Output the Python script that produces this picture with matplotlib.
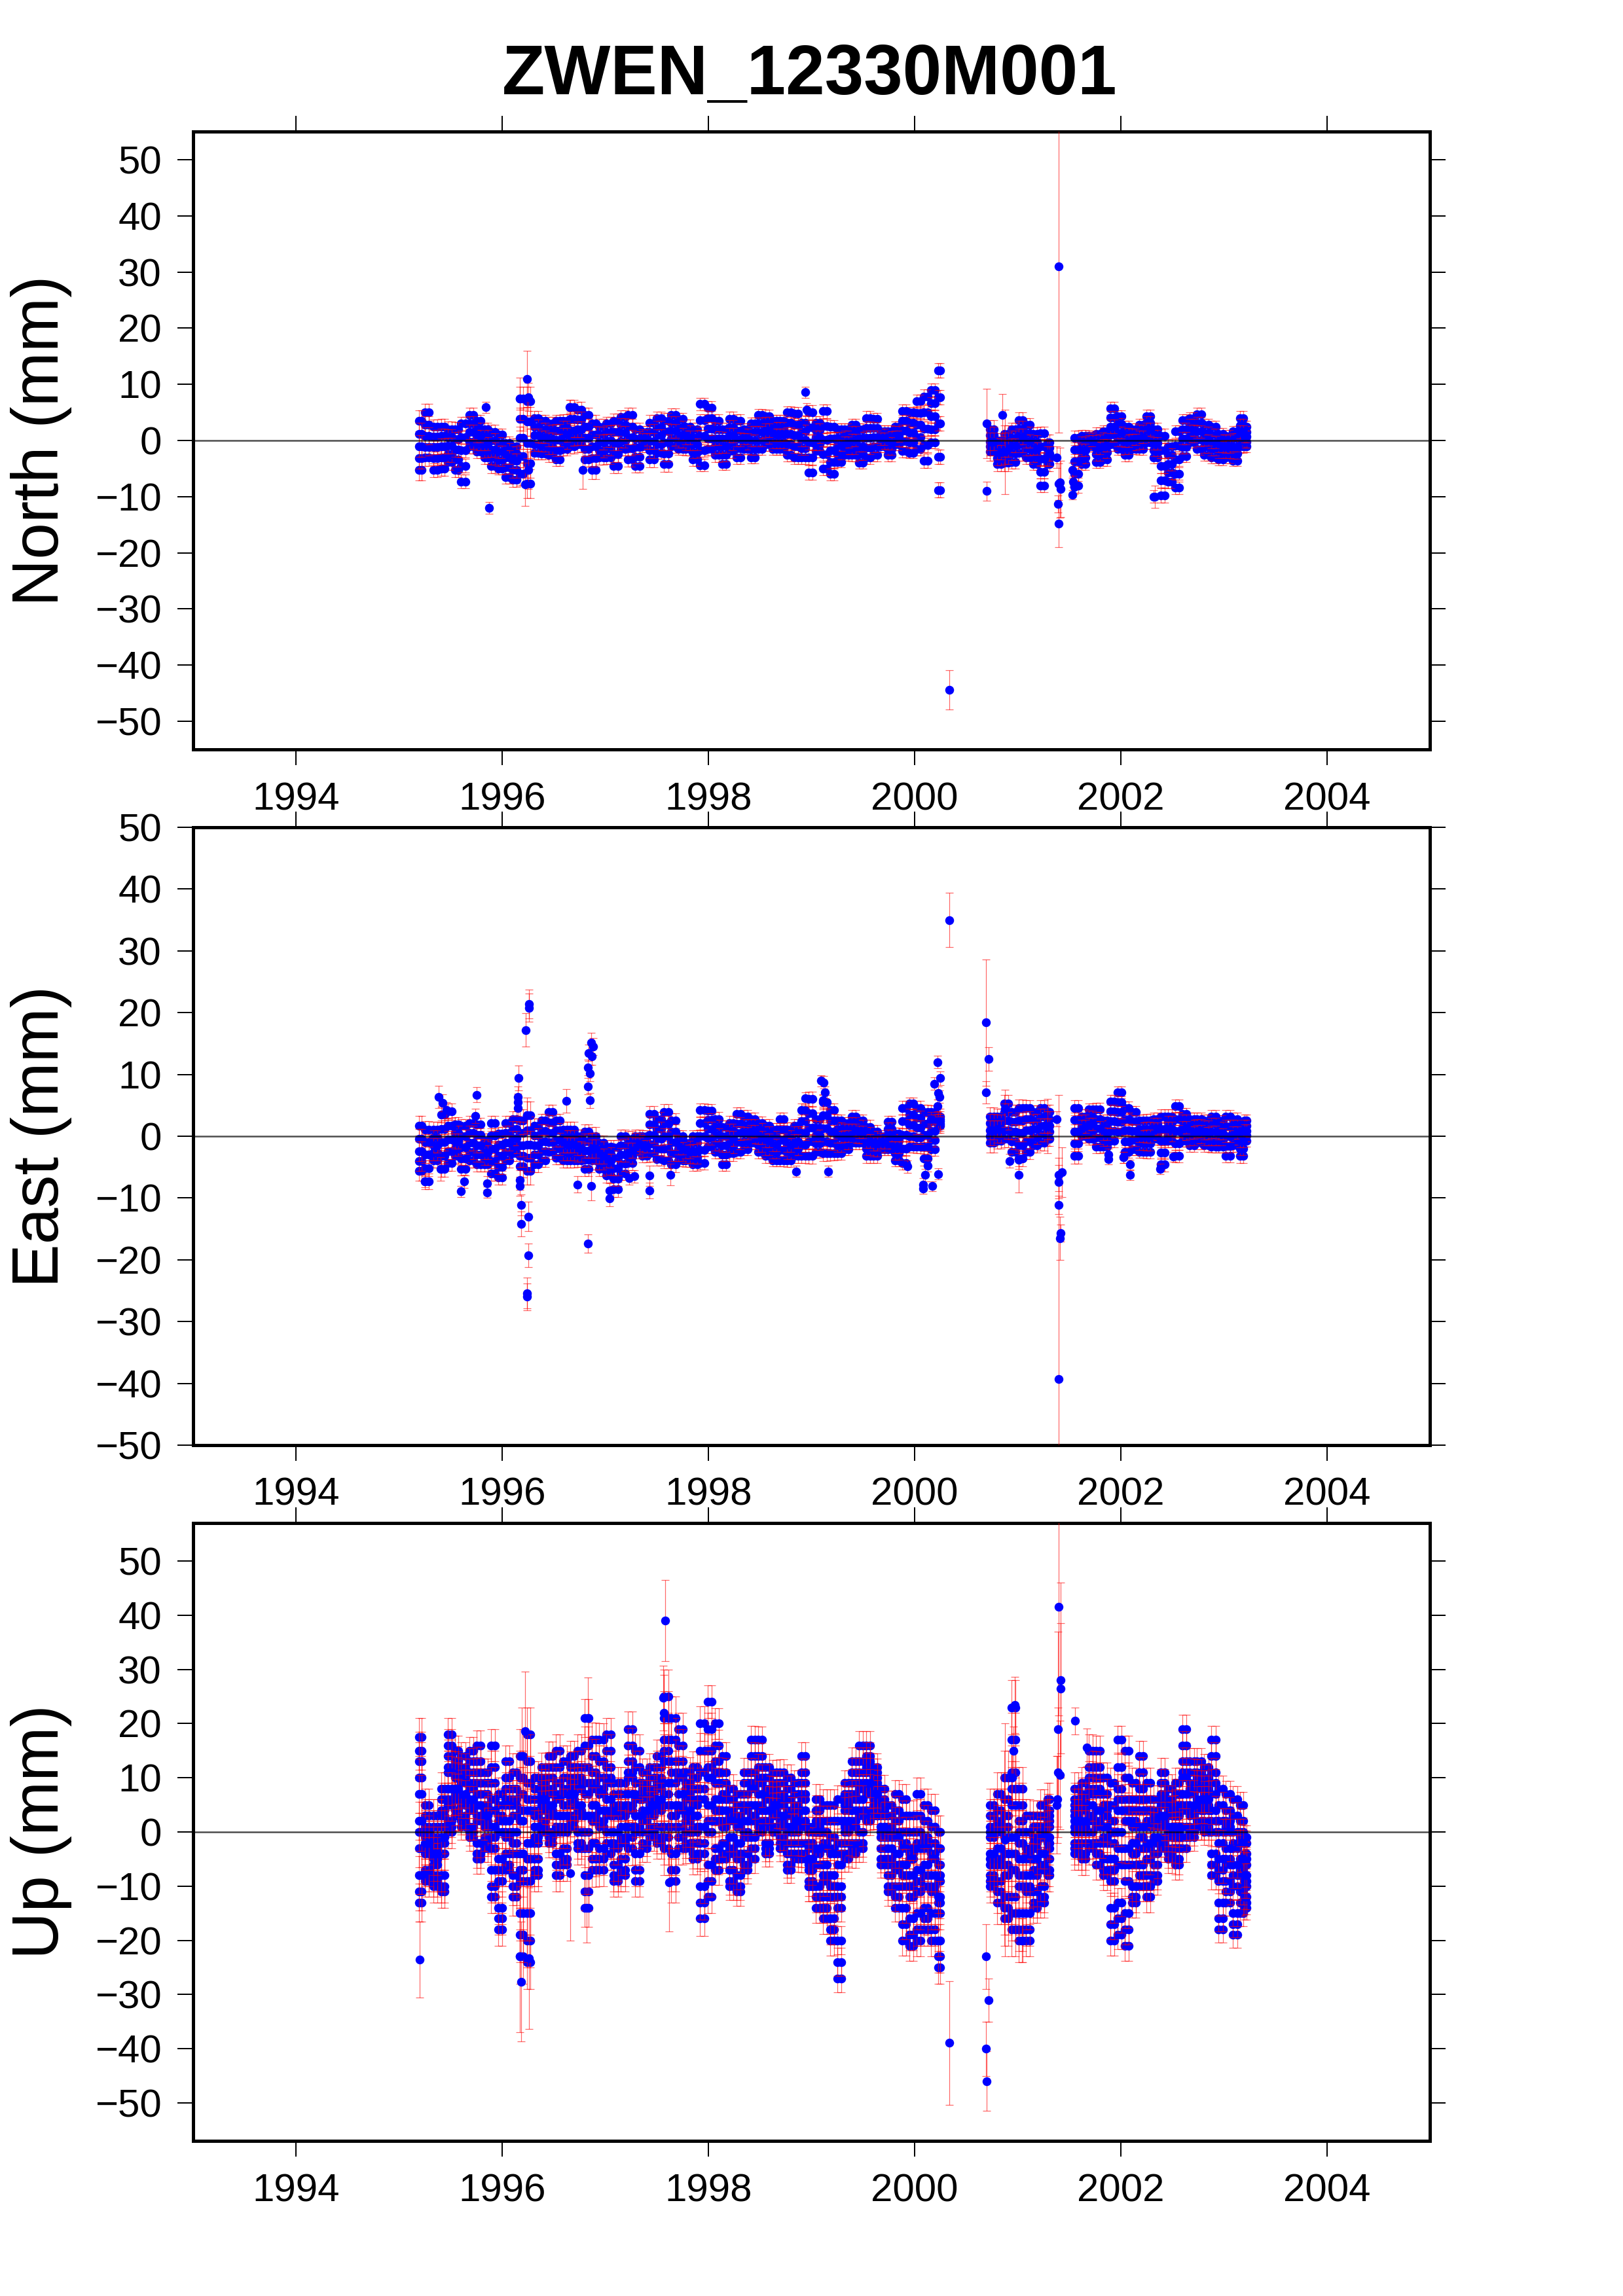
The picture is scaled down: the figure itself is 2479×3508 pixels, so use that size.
import numpy as np
import matplotlib
matplotlib.use("Agg")
import matplotlib.pyplot as plt

title = "ZWEN_12330M001"
year_ticks = [1994, 1996, 1998, 2000, 2002, 2004]
mm_ticks = [-50, -40, -30, -20, -10, 0, 10, 20, 30, 40, 50]

# sampling columns, two staggered sets
epochs = [
    1995.19, 1995.25, 1995.33, 1995.41, 1995.47, 1995.54, 1995.60, 1995.68, 1995.75, 1995.83,
    1995.89, 1995.96, 1996.03, 1996.10, 1996.17, 1996.24, 1996.31, 1996.38, 1996.45, 1996.52,
    1996.59, 1996.66, 1996.73, 1996.80, 1996.87, 1996.94, 1997.01, 1997.08, 1997.15, 1997.22,
    1997.29, 1997.36, 1997.43, 1997.50, 1997.57, 1997.64, 1997.71, 1997.78, 1997.85, 1997.92,
    1997.99, 1998.06, 1998.13, 1998.20, 1998.27, 1998.34, 1998.41, 1998.48, 1998.55, 1998.62,
    1998.69, 1998.76, 1998.83, 1998.90, 1998.97, 1999.04, 1999.11, 1999.18, 1999.25, 1999.32,
    1999.39, 1999.46, 1999.53, 1999.60, 1999.67, 1999.74, 1999.81, 1999.88, 1999.95, 2000.02,
    2000.09, 2000.16, 2000.23, 2000.73, 2000.80, 2000.87, 2000.94, 2001.01, 2001.08, 2001.15,
    2001.22, 2001.29, 2001.55, 2001.62, 2001.69, 2001.76, 2001.83, 2001.90, 2001.97, 2002.04,
    2002.11, 2002.18, 2002.25, 2002.32, 2002.39, 2002.46, 2002.53, 2002.60, 2002.67, 2002.74,
    2002.81, 2002.88, 2002.95, 2003.02, 2003.09, 2003.16, 2003.22,
]
epochs_mid = [
    1995.22, 1995.29, 1995.37, 1995.44, 1995.51, 1995.57, 1995.64, 1995.72, 1995.79, 1995.86,
    1995.93, 1996.00, 1996.07, 1996.14, 1996.20, 1996.27, 1996.35, 1996.42, 1996.49, 1996.56,
    1996.63, 1996.70, 1996.77, 1996.84, 1996.91, 1996.98, 1997.05, 1997.12, 1997.19, 1997.26,
    1997.33, 1997.40, 1997.47, 1997.54, 1997.61, 1997.68, 1997.75, 1997.82, 1997.89, 1997.96,
    1998.03, 1998.10, 1998.17, 1998.24, 1998.31, 1998.38, 1998.45, 1998.52, 1998.59, 1998.66,
    1998.73, 1998.80, 1998.87, 1998.94, 1999.01, 1999.08, 1999.15, 1999.22, 1999.29, 1999.36,
    1999.43, 1999.50, 1999.57, 1999.64, 1999.71, 1999.78, 1999.85, 1999.92, 1999.99, 2000.06,
    2000.13, 2000.20, 2000.25, 2000.77, 2000.84, 2000.91, 2000.98, 2001.05, 2001.12, 2001.19,
    2001.26, 2001.31, 2001.59, 2001.66, 2001.73, 2001.80, 2001.87, 2001.94, 2002.01, 2002.08,
    2002.15, 2002.22, 2002.29, 2002.36, 2002.43, 2002.50, 2002.57, 2002.64, 2002.71, 2002.78,
    2002.85, 2002.92, 2002.99, 2003.06, 2003.13, 2003.19, 2003.20,
]

north_top = [
    3.5, 5.0, 2.5, 2.5, 2.0, 2.0, 3.0, 4.5, 3.5, 2.0,
    1.5, 1.0, -0.5, -1.0, 7.5, 7.0, 4.0, 3.5, 3.0, 3.5,
    3.5, 6.0, 5.5, 4.5, 3.0, 2.5, 3.0, 3.5, 4.2, 4.5,
    2.0, 1.5, 3.2, 4.0, 3.5, 4.5, 3.8, 2.5, 2.0, 6.5,
    5.8, 3.5, 2.0, 3.8, 3.5, 2.0, 3.0, 4.5, 4.3, 3.5,
    3.5, 5.0, 4.8, 3.2, 5.0, 3.2, 5.2, 2.5, 2.0, 2.0,
    2.8, 2.0, 4.0, 3.8, 1.6, 1.6, 2.4, 5.3, 5.0, 7.0,
    7.8, 9.0, 12.5, 2.0, 0.0, 1.2, 2.0, 3.6, 2.8, 1.2,
    1.3, -0.3, 0.5, 0.8, 0.8, 1.2, 1.6, 5.7, 4.3, 2.4,
    2.0, 2.8, 4.3, 2.0, 0.8, -1.0, 1.6, 3.6, 4.0, 4.7,
    2.8, 2.4, 1.2, 0.8, 1.6, 4.0, 2.4,
]
north_high = [
    1.2, 2.8, 0.7, 0.8, 0.6, 0.2, 0.6, 3.0, 2.1, 0.7,
    0.0, -0.5, -1.7, -2.3, 3.8, 3.4, 2.5, 2.0, 1.6, 1.8,
    2.3, 3.9, 3.7, 2.5, 1.0, 1.1, 1.5, 1.5, 2.8, 2.5,
    0.4, 0.9, 1.5, 2.4, 1.6, 3.1, 2.4, 1.5, 0.6, 3.6,
    4.0, 2.0, 0.4, 2.3, 1.8, 1.1, 1.5, 3.0, 3.0, 2.2,
    2.2, 3.1, 2.8, 1.6, 2.3, 1.9, 2.6, 0.4, 0.5, 0.8,
    1.5, 0.5, 2.2, 2.2, 1.0, 0.5, 1.6, 3.5, 3.2, 4.9,
    5.0, 6.6, 7.7, 0.9, -1.0, -0.1, 0.5, 2.1, 1.3, -0.2,
    -1.0, -1.3, -1.6, -0.4, 0.4, -0.1, 0.3, 4.1, 2.9, 1.1,
    1.1, 1.7, 3.1, 0.8, -1.8, -2.6, -0.9, 2.0, 2.9, 3.1,
    1.4, 1.0, 0.1, -0.1, 0.3, 2.7, 1.5,
]
north_mid = [
    -1.0, 0.8, -1.2, -1.0, -0.9, -1.6, -1.8, 1.5, 0.8, -0.6,
    -1.6, -2.0, -3.0, -3.6, 0.5, -0.5, 0.9, 0.6, 0.2, 0.1,
    1.0, 1.8, 2.0, 0.5, -1.0, -0.3, 0.0, -0.5, 1.4, 0.6,
    -1.2, 0.2, -0.1, 0.9, -0.4, 1.7, 1.1, 0.5, -0.7, 0.8,
    2.1, 0.4, -1.1, 0.9, 0.2, 0.3, 0.0, 1.5, 1.8, 1.0,
    1.0, 1.2, 0.9, 0.1, -0.3, 0.6, 0.1, -1.7, -0.9, -0.3,
    0.1, -1.0, 0.5, 0.6, 0.3, -0.5, 0.8, 1.7, 1.4, 2.8,
    2.1, 4.3, 3.0, -0.2, -2.1, -1.4, -0.9, 0.7, -0.1, -1.5,
    -3.3, -2.3, -3.7, -1.7, -0.1, -1.3, -0.9, 2.5, 1.4, -0.1,
    0.2, 0.6, 2.0, -0.5, -4.5, -4.2, -3.4, 0.4, 1.8, 1.6,
    0.1, -0.3, -1.1, -1.1, -1.0, 1.5, 0.7,
]
north_low = [
    -3.1, -1.2, -3.2, -3.0, -2.4, -3.4, -4.5, -0.2, -0.6, -1.8,
    -3.0, -3.5, -4.8, -5.3, -2.8, -4.1, -0.7, -0.9, -1.2, -1.7,
    -0.3, 0.3, 0.6, -1.5, -3.1, -1.7, -1.5, -2.5, -0.1, -1.4,
    -2.9, -0.4, -1.8, -0.7, -2.3, 0.3, -0.2, -0.5, -2.1, -1.8,
    0.3, -1.1, -2.6, -0.5, -1.4, -0.6, -1.5, 0.0, 0.6, -0.3,
    -0.3, -0.7, -1.0, -1.4, -3.0, -0.7, -2.4, -3.9, -2.4, -1.5,
    -1.3, -2.5, -1.3, -1.0, -0.4, -1.5, 0.0, -0.1, -0.4, 0.6,
    -0.8, 2.0, -2.9, -1.1, -3.1, -2.7, -2.3, -0.7, -1.5, -2.8,
    -5.6, -3.2, -5.9, -3.0, -0.5, -2.5, -2.1, 1.0, 0.0, -1.3,
    -0.7, -0.4, 0.9, -1.7, -7.1, -5.7, -5.9, -1.2, 0.7, 0.1,
    -1.2, -1.6, -2.2, -2.0, -2.3, 0.3, -0.2,
]
north_bot = [
    -5.2, -3.0, -5.3, -5.0, -3.8, -5.2, -7.3, -1.0, -2.0, -3.0,
    -4.5, -5.0, -6.5, -7.0, -6.0, -7.7, -2.2, -2.3, -2.6, -3.4,
    -1.5, -1.1, -0.7, -3.4, -5.3, -3.0, -3.0, -4.5, -1.5, -3.4,
    -4.5, -1.0, -3.4, -2.2, -4.2, -1.0, -1.5, -1.5, -3.4, -4.4,
    -1.5, -2.6, -4.2, -1.9, -3.0, -1.5, -3.0, -1.5, -0.7, -1.5,
    -1.5, -2.6, -3.0, -3.0, -5.7, -1.9, -5.0, -6.0, -3.8, -2.6,
    -2.6, -4.0, -3.0, -2.6, -1.0, -2.6, -0.7, -1.9, -2.2, -1.5,
    -3.6, -0.3, -8.8, -2.0, -4.2, -4.0, -3.8, -2.2, -3.0, -4.2,
    -8.0, -4.2, -8.0, -4.2, -1.0, -3.8, -3.4, -0.7, -1.5, -2.6,
    -1.5, -1.5, -0.3, -3.0, -9.8, -7.3, -8.4, -2.8, -0.3, -1.5,
    -2.6, -3.0, -3.4, -3.0, -3.6, -1.0, -1.0,
]
north_sigma = [
    1.9, 1.5, 1.2, 1.3, 1.4, 1.3, 1.2, 1.3, 1.1, 1.2,
    1.3, 1.1, 1.2, 1.3, 2.0, 2.6, 1.2, 1.1, 1.2, 1.1,
    1.2, 1.2, 1.4, 1.3, 1.6, 1.3, 1.2, 1.3, 1.2, 1.3,
    1.2, 1.1, 1.4, 1.1, 1.4, 1.2, 1.1, 1.2, 1.1, 1.1,
    1.2, 1.2, 1.1, 1.3, 1.2, 1.0, 1.1, 1.1, 1.2, 1.1,
    1.1, 1.1, 1.2, 1.2, 1.3, 1.1, 1.2, 1.1, 1.0, 1.0,
    1.1, 1.0, 1.2, 1.1, 1.1, 1.1, 1.0, 1.1, 1.0, 1.2,
    1.3, 1.1, 1.3, 1.6, 1.3, 1.5, 1.2, 1.4, 1.2, 1.1,
    1.2, 1.3, 1.3, 1.1, 1.0, 1.1, 1.1, 1.2, 1.1, 1.1,
    1.0, 1.1, 1.2, 1.1, 1.3, 1.2, 1.1, 1.1, 1.0, 1.1,
    1.0, 1.1, 1.0, 1.1, 1.0, 1.2, 1.1,
]
north_out_t = [1995.84, 1995.87, 1996.17, 1996.24, 1996.22, 1996.25, 1996.25, 1996.78, 1996.65, 1998.94,
               1998.95, 2000.34, 2000.70, 2000.70, 2000.85, 2000.88, 2001.40, 2001.38, 2001.39, 2001.40,
               2001.41, 2001.395, 2001.42, 2001.53, 2001.54, 2001.55, 2001.53, 2002.33, 2002.32]
north_out_v = [5.9, -12.0, 7.4, 11.0, -7.8, -5.3, 7.7, -5.3, 6.0, 8.6,
               5.5, -44.4, 3.0, -9.0, 4.5, -2.0, 31.0, -3.0, -11.3, -14.8,
               -7.5, -7.7, -8.6, -5.3, -7.3, -8.3, -9.7, -10.0, -10.0]
north_out_e = [1.0, 1.0, 3.8, 5.0, 3.8, 3.3, 2.5, 3.3, 1.2, 1.0,
               1.2, 3.5, 6.2, 1.7, 3.8, 7.5, 29.6, 1.9, 1.5, 4.2,
               6.2, 3.6, 5.0, 1.3, 1.0, 1.2, 0.8, 2.0, 1.1]

east_top = [
    1.7, 1.1, 1.1, 3.5, 4.0, 1.9, 1.7, 2.1, 1.9, -0.7,
    2.1, 0.4, 2.1, 2.8, 2.5, 3.4, 1.7, 2.5, 3.9, 2.5,
    1.1, 1.1, 0.0, 0.7, 0.0, -1.1, -1.7, -1.8, 0.0, -0.4,
    0.0, 0.0, 3.6, 2.8, 3.9, 2.5, 0.0, -1.1, 0.0, 4.2,
    4.1, 2.8, 1.5, 2.1, 3.6, 3.2, 2.8, 2.1, 1.7, 1.1,
    2.8, 1.1, 1.7, 4.2, 6.0, 2.8, 5.5, 4.2, 2.5, 2.1,
    3.2, 2.5, 1.5, 0.7, 0.0, 2.3, 0.4, 4.6, 5.3, 4.6,
    3.9, 3.9, 3.2, 3.2, 3.2, 5.3, 3.9, 4.6, 4.6, 3.9,
    4.6, 3.9, 4.6, 3.2, 4.3, 4.3, 2.5, 5.6, 7.1, 4.6,
    3.9, 2.5, 2.5, 2.8, 3.2, 3.2, 4.9, 3.6, 2.8, 2.8,
    2.5, 3.2, 2.5, 3.2, 2.8, 1.7, 2.5,
]
east_high = [
    -0.4, -1.0, -0.2, 1.2, 1.7, 0.5, 0.0, 0.5, 0.2, -1.6,
    0.1, -1.4, 0.5, 1.2, 0.5, 1.0, 0.1, 0.8, 2.2, 1.0,
    -0.2, -0.2, -1.0, -0.8, -1.0, -2.1, -2.9, -3.5, -1.5, -1.3,
    -0.6, -0.8, 1.9, 1.2, 2.0, 0.7, -1.0, -1.8, -1.1, 2.1,
    2.6, 1.5, 0.0, 0.8, 2.0, 1.8, 1.8, 1.0, 0.5, -0.1,
    1.1, -0.1, 0.5, 2.4, 3.7, 1.4, 3.4, 2.5, 1.2, 1.0,
    2.1, 1.6, 0.4, -0.3, -0.5, 1.2, -0.7, 2.4, 3.5, 3.0,
    2.0, 2.4, 2.8, 2.1, 2.2, 3.9, 2.3, 2.5, 2.8, 2.5,
    3.2, 2.8, 2.6, 2.4, 3.1, 2.8, 1.5, 4.0, 5.5, 2.8,
    2.4, 1.2, 1.2, 2.0, 1.2, 2.2, 2.8, 2.5, 1.7, 1.8,
    1.5, 2.0, 1.4, 1.6, 1.7, 0.5, 1.7,
]
east_mid = [
    -2.4, -3.0, -1.5, -1.0, -0.5, -0.8, -1.8, -1.1, -1.5, -2.6,
    -2.0, -3.2, -1.1, -0.3, -1.5, -1.4, -1.5, -0.9, 0.5, -0.6,
    -1.4, -1.4, -2.0, -2.3, -2.0, -3.2, -4.0, -5.2, -3.0, -2.3,
    -1.3, -1.6, 0.2, -0.4, 0.0, -1.0, -2.0, -2.5, -2.3, 0.0,
    1.2, 0.2, -1.5, -0.4, 0.5, 0.5, 0.8, -0.2, -0.7, -1.4,
    -0.6, -1.4, -0.8, 0.5, 1.4, 0.1, 1.3, 0.7, -0.1, 0.0,
    1.0, 0.7, -0.8, -1.2, -1.0, 0.1, -1.8, 0.2, 1.8, 1.4,
    0.2, 0.9, 2.4, 1.0, 1.2, 2.5, 0.7, 0.5, 1.0, 1.2,
    1.7, 1.7, 0.7, 1.6, 2.0, 1.3, 0.4, 2.4, 3.9, 1.0,
    0.9, 0.0, 0.0, 1.2, -0.7, 1.2, 0.8, 1.4, 0.6, 0.8,
    0.5, 0.7, 0.4, 0.0, 0.6, -0.7, 0.9,
]
east_low = [
    -4.0, -5.2, -2.7, -3.2, -2.4, -2.0, -3.6, -2.5, -3.0, -3.6,
    -4.0, -5.0, -2.5, -1.6, -3.2, -3.5, -3.0, -2.4, -1.0, -2.0,
    -2.7, -2.7, -3.0, -3.8, -3.0, -4.2, -5.2, -6.9, -4.5, -3.3,
    -1.9, -2.4, -1.3, -2.0, -2.0, -2.8, -3.0, -3.2, -3.4, -2.2,
    -0.3, -1.2, -3.0, -1.6, -1.0, -0.8, -0.2, -1.4, -2.0, -2.6,
    -2.2, -2.6, -2.0, -1.4, -0.9, -1.2, -0.8, -1.1, -1.5, -1.1,
    -0.1, -0.2, -2.0, -2.2, -1.6, -1.0, -2.8, -2.0, 0.0, -0.2,
    -1.7, -0.6, 2.0, 0.0, 0.2, 1.0, -0.9, -1.5, -0.8, -0.2,
    0.3, 0.7, -1.2, 0.8, 0.8, -0.2, -0.6, 0.9, 2.3, -0.8,
    -0.6, -1.2, -1.2, 0.4, -2.6, 0.2, -1.2, 0.4, -0.5, -0.2,
    -0.5, -0.5, -0.6, -1.6, -0.4, -2.0, 0.1,
]
east_bot = [
    -5.6, -7.3, -3.9, -5.3, -4.3, -3.2, -5.3, -3.9, -4.6, -4.6,
    -6.0, -6.7, -3.9, -2.8, -4.9, -5.6, -4.6, -3.9, -2.5, -3.5,
    -3.9, -3.9, -3.9, -5.3, -3.9, -5.3, -6.4, -8.6, -6.0, -4.3,
    -2.5, -3.2, -2.8, -3.7, -3.9, -4.6, -3.9, -3.9, -4.6, -4.3,
    -1.7, -2.5, -4.6, -2.8, -2.5, -2.1, -1.1, -2.5, -3.2, -3.9,
    -3.9, -3.9, -3.2, -3.2, -3.2, -2.5, -2.8, -2.8, -2.8, -2.1,
    -1.1, -1.1, -3.2, -3.2, -2.1, -2.1, -3.9, -4.3, -1.7, -1.7,
    -3.6, -2.1, 1.7, -1.1, -0.7, -0.4, -2.5, -3.6, -2.5, -1.5,
    -1.1, -0.4, -3.2, 0.0, -0.4, -1.7, -1.7, -0.7, 0.7, -2.5,
    -2.1, -2.5, -2.5, -0.4, -4.6, -0.7, -3.2, -0.7, -1.5, -1.1,
    -1.5, -1.7, -1.7, -3.2, -1.5, -3.2, -0.7,
]
east_sigma = [
    1.6, 1.3, 1.2, 1.3, 1.3, 1.2, 1.1, 1.2, 1.1, 1.1,
    1.2, 1.1, 1.2, 1.2, 1.8, 2.2, 1.2, 1.1, 1.2, 1.1,
    1.2, 1.2, 1.1, 1.2, 1.5, 1.2, 1.1, 1.2, 1.1, 1.2,
    1.1, 1.0, 1.3, 1.1, 1.3, 1.2, 1.0, 1.1, 1.0, 1.1,
    1.1, 1.1, 1.0, 1.2, 1.1, 1.0, 1.0, 1.1, 1.1, 1.0,
    1.0, 1.1, 1.1, 1.1, 1.2, 1.0, 1.2, 1.1, 1.0, 1.0,
    1.0, 1.0, 1.1, 1.1, 1.0, 1.0, 1.0, 1.1, 1.0, 1.1,
    1.2, 1.1, 1.2, 1.5, 1.3, 1.4, 1.2, 1.3, 1.2, 1.1,
    1.2, 1.2, 1.2, 1.1, 1.0, 1.1, 1.0, 1.1, 1.0, 1.0,
    1.0, 1.0, 1.1, 1.0, 1.1, 1.1, 1.0, 1.0, 1.0, 1.0,
    1.0, 1.0, 0.9, 1.0, 1.0, 1.1, 1.0,
]
east_out_t = [1995.38, 1995.42, 1995.46, 1995.75, 1995.74, 1995.60, 1995.63, 1995.85, 1995.85, 1995.40, 1995.25,
              1996.16, 1996.15, 1996.15, 1996.15, 1996.24, 1996.17, 1996.17, 1996.18, 1996.18, 1996.25, 1996.25,
              1996.24, 1996.24, 1996.23, 1996.26, 1996.26, 1996.62, 1996.73, 1996.83, 1996.86, 1996.86, 1996.88,
              1996.84, 1996.87, 1996.83, 1996.85, 1996.83, 1996.85, 1997.43, 1997.43, 1997.63, 1997.04, 1997.04,
              1997.23, 1997.28, 1998.94, 1999.09, 1999.12, 1999.13, 1999.11, 1998.85, 1999.16,
              2000.22, 2000.25, 2000.23, 2000.24, 2000.22, 2000.19, 2000.16, 2000.10, 2000.08, 2000.08, 2000.17,
              2000.23, 1999.93, 2000.13, 2000.34, 2000.69, 2000.72, 2000.69, 2000.92, 2001.01, 2001.01,
              2001.38, 2001.40, 2001.40, 2001.40, 2001.43, 2001.42, 2001.41, 2001.40, 2001.29, 2000.88,
              2001.88, 2001.88, 2002.03, 2002.03, 2002.09, 2002.09, 2002.38, 2002.51]
east_out_v = [6.4, 5.4, 4.2, 6.7, 3.3, -8.9, -7.3, -7.6, -9.1, -5.3, -7.3,
              9.4, 6.4, 5.5, 4.6, 3.4, -7.1, -8.1, -11.1, -14.2, -13.0, -19.3,
              -25.4, -26.0, 17.2, 20.8, 21.4, 5.7, -7.8, -17.4, -8.1, 15.1, 14.5,
              13.5, 12.9, 11.1, 10.2, 8.1, 5.8, -6.4, -8.8, -6.2, -10.1, -8.8,
              -6.8, -6.5, 6.1, 9.0, 8.7, 7.1, 5.8, -5.7, -5.7,
              12.0, 9.4, 7.0, 6.4, 4.9, 8.5, 2.8, -6.3, -7.8, -8.5, -8.1,
              -6.1, -4.9, -4.8, 35.0, 18.4, 12.5, 7.1, -4.0, -3.8, -6.3,
              2.8, -6.2, -7.4, -11.1, -5.8, -15.7, -16.5, -39.3, 1.6, 4.5,
              -3.0, -3.7, -3.4, -3.4, -4.6, -6.3, -5.3, -3.3]
east_out_e = [1.8, 1.4, 1.3, 1.2, 1.2, 0.9, 1.1, 1.1, 0.9, 1.9, 1.0,
              2.0, 1.6, 1.4, 1.3, 2.9, 1.6, 1.5, 1.7, 2.0, 2.4, 1.9,
              2.5, 2.2, 2.7, 2.3, 2.3, 1.9, 1.3, 1.5, 2.3, 1.6, 1.4,
              1.3, 1.4, 1.3, 1.3, 1.3, 1.2, 1.6, 1.3, 1.7, 1.2, 1.2,
              1.0, 1.0, 1.0, 0.9, 1.0, 1.0, 1.0, 0.9, 0.9,
              1.0, 1.1, 1.1, 1.0, 1.0, 1.0, 1.1, 1.0, 1.0, 0.8, 0.8,
              0.9, 1.0, 0.9, 4.4, 10.2, 1.9, 1.8, 1.1, 1.5, 2.8,
              1.2, 2.7, 2.7, 1.5, 4.0, 1.4, 3.5, 46.0, 4.4, 3.0,
              1.0, 0.9, 0.9, 0.9, 0.8, 0.8, 0.8, 0.8]

up_top = [
    17.5, 5, 3, 8, 18, 15, 14, 15, 16, 11,
    16, 7, 13, 11, 14, 18, 10, 12, 14, 15,
    13, 14, 15, 21, 17, 17, 18, 9, 9, 19,
    15, 11, 12, 14, 25, 21, 19, 11, 12, 20,
    24, 20, 14, 8, 7, 11, 17, 17, 12, 11,
    11, 10, 9, 14, 1, 6, 5, 5, 6, 9,
    13, 16, 16, 12, 8, 5, 7, 6, 3, 7,
    5, 4, 0, 5, 7, 10, 23, 8, 3, 3,
    5, 6, 8, 9, 15, 15, 10, 9, 17, 15,
    9, 14, 9, 6, 11, 8, 9, 19, 13, 13,
    12, 17, 8, 7, 6, 5, -1,
]
up_h = [
    15, 3, 1, 6, 16, 13, 12, 13, 13, 9,
    12, 5, 10, 8, 10, 13, 8, 10, 12, 12,
    10, 12, 12, 16, 14, 13, 15, 7, 7, 16,
    12, 9, 10, 12, 21, 17, 16, 9, 10, 15,
    19, 16, 11, 6, 5, 9, 14, 14, 10, 9,
    9, 8, 7, 11, 0, 4, 2, 2, 2, 7,
    11, 13, 14, 11, 6, 3, 4, 3, 0, 3,
    2, 1, -3, 3, 4, 6, 17, 5, 0, 1,
    3, 4, 6, 7, 12, 12, 7, 5, 12, 10,
    6, 11, 6, 4, 9, 6, 7, 16, 11, 11,
    10, 14, 5, 4, 3, 2, -2,
]
up_a = [
    13, 1, -1, 4, 14, 12, 11, 11, 11, 7,
    9, 3, 8, 6, 7, 9, 6, 9, 10, 9,
    8, 10, 10, 12, 11, 10, 12, 5, 5, 13,
    9, 8, 8, 10, 17, 13, 13, 8, 8, 11,
    15, 13, 9, 4, 3, 7, 11, 12, 8, 8,
    7, 6, 5, 9, -2, 2, 0, -1, -2, 6,
    9, 11, 13, 10, 5, 1, 2, 0, -3, 0,
    -1, -2, -6, 1, 2, 3, 11, 2, -3, -1,
    1, 3, 5, 6, 10, 10, 5, 2, 8, 6,
    4, 8, 4, 3, 7, 5, 5, 13, 9, 10,
    9, 11, 2, 2, 0, 0, -4,
]
up_e = [
    10, -1, -3, 3, 12, 11, 10, 9, 9, 5,
    6, 2, 6, 5, 4, 6, 4, 8, 8, 7,
    7, 9, 9, 9, 9, 8, 10, 4, 4, 11,
    7, 7, 7, 9, 15, 11, 11, 7, 6, 8,
    12, 11, 7, 3, 2, 5, 9, 10, 7, 7,
    6, 4, 4, 7, -2, 1, -2, -3, -4, 5,
    7, 9, 12, 9, 4, 0, 0, -2, -4, -2,
    -2, -4, -8, 0, 1, 1, 8, 0, -4, -2,
    0, 2, 4, 5, 8, 8, 4, 0, 6, 4,
    2, 6, 2, 2, 6, 4, 4, 11, 8, 9,
    8, 9, 0, 1, -2, -1, -5,
]
up_b = [
    7, 0, -2, 1, 11, 10, 9, 8, 7, 4,
    4, 0, 5, 3, 2, 4, 3, 7, 7, 6,
    5, 8, 8, 7, 8, 7, 9, 3, 3, 10,
    6, 6, 6, 8, 13, 9, 10, 6, 5, 6,
    10, 9, 6, 2, 1, 4, 8, 9, 6, 6,
    5, 3, 3, 6, -3, 0, -3, -4, -6, 4,
    6, 8, 11, 8, 3, -1, -1, -3, -5, -3,
    -3, -5, -9, -1, 0, -1, 5, -2, -5, -3,
    -1, 1, 3, 4, 7, 7, 3, -2, 4, 2,
    1, 4, 1, 1, 5, 3, 3, 10, 7, 8,
    7, 7, -2, 0, -3, -2, -6,
]
up_mid = [
    2, -2, -4, -1, 8, 8, 7, 6, 5, 3,
    1, -5, 2, 0, -4, -2, 1, 6, 5, 3,
    3, 7, 5, 3, 5, 4, 6, 0, 1, 7,
    3, 4, 5, 6, 9, 5, 7, 4, 3, 1,
    5, 6, 4, -1, -2, 2, 5, 7, 4, 5,
    3, 1, 2, 4, -5, -3, -6, -8, -10, 2,
    4, 6, 9, 7, 1, -3, -4, -6, -8, -7,
    -6, -8, -12, -4, -3, -4, -1, -5, -8, -5,
    -4, -1, 2, 2, 5, 4, 1, -5, 0, -3,
    -2, 1, -2, -1, 3, 1, 1, 7, 5, 6,
    6, 4, -5, -3, -6, -5, -8,
]
up_f = [
    0, -3, -5, -2, 6, 7, 6, 5, 3, 2,
    -1, -7, 0, -2, -7, -5, -1, 5, 4, 1,
    1, 6, 4, 0, 3, 2, 4, -2, -1, 5,
    1, 3, 4, 5, 7, 3, 5, 3, 1, -2,
    2, 4, 2, -3, -4, 0, 3, 5, 2, 4,
    2, 0, 1, 2, -6, -4, -8, -10, -12, 1,
    2, 4, 8, 6, 0, -5, -6, -8, -10, -9,
    -8, -10, -13, -5, -5, -6, -4, -8, -10, -7,
    -6, -2, 1, 1, 3, 2, -1, -7, -3, -6,
    -4, -1, -3, -2, 2, 0, 0, 5, 4, 5,
    5, 2, -7, -5, -8, -7, -9,
]
up_c = [
    -3, -4, -6, -4, 5, 6, 5, 4, 2, 1,
    -3, -9, -1, -4, -9, -9, -2, 4, 3, 0,
    0, 5, 3, -3, 2, 1, 3, -3, -2, 4,
    0, 2, 3, 4, 5, 1, 4, 2, 0, -4,
    0, 2, 1, -4, -5, -1, 2, 4, 1, 3,
    1, -2, 0, 1, -7, -6, -9, -12, -14, 0,
    1, 3, 7, 5, -1, -6, -7, -10, -12, -11,
    -10, -11, -15, -6, -6, -8, -7, -10, -11, -8,
    -7, -3, 0, 0, 2, 1, -2, -9, -6, -9,
    -6, -3, -5, -4, 1, -1, -1, 4, 3, 4,
    4, 0, -9, -6, -10, -8, -10,
]
up_d = [
    -8, -7, -8, -8, 2, 4, 3, 1, -2, -1,
    -7, -14, -4, -8, -15, -15, -5, 2, 0, -4,
    -3, 3, 0, -8, -2, -3, 0, -6, -5, 1,
    -4, 0, 1, 1, 1, -4, 1, 0, -2, -10,
    -6, -3, -2, -7, -8, -4, -1, 2, -2, 1,
    -1, -4, -2, -2, -9, -10, -12, -16, -20, -2,
    -2, 0, 4, 4, -3, -8, -10, -14, -16, -15,
    -14, -15, -20, -8, -9, -12, -12, -15, -15, -11,
    -10, -5, -2, -2, 0, -2, -5, -14, -13, -15,
    -10, -6, -8, -6, -1, -3, -3, 1, 1, 2,
    2, -4, -13, -9, -15, -11, -12,
]
up_g = [
    -11, -8, -9, -10, 1, 3, 2, 0, -4, -2,
    -10, -16, -6, -10, -19, -20, -7, 1, -1, -6,
    -5, 2, -2, -11, -5, -5, -2, -8, -7, -1,
    -7, -2, 0, -1, -1, -7, -1, -2, -4, -13,
    -9, -5, -4, -9, -10, -6, -3, 1, -3, 0,
    -2, -6, -4, -4, -10, -12, -14, -18, -24, -4,
    -3, -2, 3, 3, -5, -10, -12, -17, -19, -18,
    -16, -18, -23, -9, -11, -14, -15, -18, -18, -13,
    -12, -7, -3, -4, -2, -4, -7, -17, -16, -18,
    -12, -8, -10, -8, -2, -4, -5, -1, 0, 1,
    1, -6, -16, -11, -17, -13, -13,
]
up_bot = [
    -13, -9, -10, -11, 0, 3, 1, -1, -5, -3,
    -12, -18, -7, -12, -23, -24, -8, 0, -2, -8,
    -6, 1, -3, -14, -7, -7, -4, -9, -8, -3,
    -9, -3, -1, -2, -3, -9, -3, -3, -5, -16,
    -12, -7, -5, -10, -11, -7, -5, 0, -4, 0,
    -3, -7, -5, -5, -10, -14, -16, -20, -27, -5,
    -4, -3, 2, 3, -6, -11, -14, -20, -21, -20,
    -18, -20, -25, -10, -13, -16, -18, -20, -20, -14,
    -13, -8, -4, -5, -3, -6, -8, -20, -19, -21,
    -13, -10, -12, -9, -3, -5, -6, -3, -1, 1,
    0, -8, -18, -13, -19, -15, -14,
]
up_sigma = [
    3.5, 3.0, 3.0, 3.0, 3.0, 2.8, 2.5, 2.5, 2.7, 2.5,
    3.0, 3.0, 3.0, 3.5, 5.0, 5.0, 3.0, 2.6, 2.7, 3.0,
    3.0, 2.8, 3.0, 3.5, 3.2, 3.0, 3.0, 3.0, 3.0, 3.2,
    3.0, 2.5, 2.5, 3.0, 5.0, 4.0, 3.0, 2.8, 2.8, 3.2,
    3.0, 2.8, 2.6, 2.6, 2.6, 2.6, 2.6, 2.4, 2.4, 2.3,
    2.4, 2.4, 2.4, 2.5, 2.8, 2.8, 2.8, 2.8, 2.6, 2.4,
    2.6, 2.6, 2.6, 2.5, 2.5, 2.6, 2.6, 2.8, 2.8, 3.0,
    3.0, 3.0, 3.0, 3.0, 4.0, 5.0, 5.0, 4.0, 3.0, 2.8,
    2.8, 3.0, 3.0, 3.0, 3.0, 2.8, 2.8, 2.8, 2.6, 2.8,
    2.8, 2.8, 2.8, 2.6, 2.6, 2.6, 2.8, 2.6, 2.5, 2.4,
    2.4, 2.6, 2.4, 2.4, 2.4, 2.4, 2.2,
]
up_out_t = [1995.20, 1996.18, 1996.17, 1996.26, 1996.22, 1996.19, 1996.83, 1996.82, 1997.56, 1997.58,
            1997.57, 1997.62, 1996.66, 2000.34, 2000.69, 2000.69, 2000.70, 2000.72, 2000.97, 2000.96,
            2000.95, 2001.40, 2001.42, 2001.415, 2001.39, 2001.39, 2001.41, 2001.385, 2001.38, 2001.56,
            2001.67, 2001.04, 2000.88]
up_out_v = [-23.5, -27.6, -23.0, -23.3, 18.6, 14.0, 21.0, -14.0, 24.7, 39.0,
            22.0, -9.3, -7.6, -38.9, -23.0, -40.0, -46.0, -31.0, 23.4, 15.0,
            10.0, 41.5, 28.0, 26.5, 19.0, 11.0, 10.5, 6.0, 5.0, 20.5,
            15.6, -20.0, -1.5]
up_out_e = [7.0, 11.0, 14.0, 13.0, 11.0, 9.0, 7.5, 6.4, 6.0, 7.5,
            7.0, 9.0, 12.4, 11.4, 6.0, 5.0, 5.5, 4.0, 5.2, 4.5,
            5.0, 20.0, 18.0, 12.0, 18.0, 12.0, 10.0, 8.0, 9.0, 2.5,
            3.5, 4.0, 21.5]

PX = 1 / 300 * 72  # points per pixel at 300 dpi
W, H = 2479, 3508


def add_panel(top_px, bottom_px, ylim, label):
    ax = fig.add_axes([295 / W, 1 - bottom_px / H, 1889 / W, (bottom_px - top_px) / H])
    ax.set_xlim(1993, 2005)
    ax.set_ylim(*ylim)
    ax.set_xticks(year_ticks)
    ax.set_yticks(mm_ticks)
    ax.tick_params(axis="both", direction="out", length=24 * PX, width=2 * PX,
                   top=True, right=True, labelsize=14.4)
    ax.tick_params(axis="x", pad=25 * PX)
    ax.tick_params(axis="y", pad=24 * PX)
    for spine in ax.spines.values():
        spine.set_linewidth(5 * PX)
    ax.text(63, (top_px + bottom_px) / 2, label, transform=fig_px, rotation=90,
            ha="center", va="center", fontsize=24)
    return ax


def draw_series(ax, dates, values, errors, layer):
    ax.errorbar(dates, values, yerr=errors, fmt="none", ecolor=(1, 0, 0, 0.6),
                elinewidth=1.2 * PX, capsize=6 * PX, capthick=1.2 * PX, zorder=layer)
    ax.plot(dates, values, "o", color="#0000ff", ms=13.5 * PX, mew=0, zorder=layer + 0.5)


plt.rcParams["font.family"] = ["Liberation Sans", "DejaVu Sans"]
fig = plt.figure(figsize=(W / 300, H / 300), dpi=300)
# pixel transform with the origin at the top left
fig_px = matplotlib.transforms.Affine2D().scale(1, -1).translate(0, H)

panels = [
    (201, 1145, (-55, 55), "North (mm)",
     [north_top, north_bot, north_high, north_low, north_mid],
     north_sigma, north_out_t, north_out_v, north_out_e),
    (1264, 2208, (-50, 50), "East (mm)",
     [east_top, east_bot, east_high, east_low, east_mid],
     east_sigma, east_out_t, east_out_v, east_out_e),
    (2327, 3271, (-57, 57), "Up (mm)",
     [up_top, up_bot, up_h, up_g, up_a, up_d, up_e, up_c, up_b, up_f, up_mid],
     up_sigma, up_out_t, up_out_v, up_out_e),
]

for top_px, bottom_px, ylim, label, rows, sigma, out_t, out_v, out_e in panels:
    ax = add_panel(top_px, bottom_px, ylim, label)
    layer = 2
    for values in rows:
        draw_series(ax, epochs, values, sigma, layer)
        draw_series(ax, epochs_mid, values, sigma, layer + 1)
        layer += 2
    draw_series(ax, out_t, out_v, out_e, layer)
    ax.axhline(0, color="black", alpha=0.7, lw=2.5 * PX, zorder=layer + 1)

fig.text(1237 / W, 1 - 116 / H, title, ha="center", va="center",
         fontsize=25.7, fontweight="bold")

fig.savefig("out.png", dpi=300)
